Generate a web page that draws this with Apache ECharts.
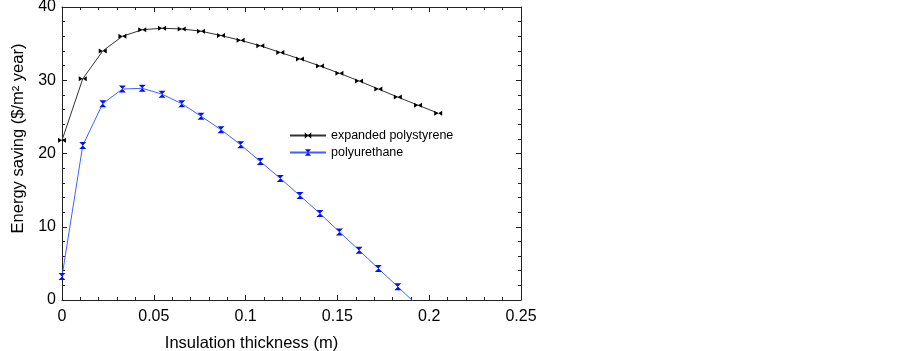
<!DOCTYPE html>
<html>
<head>
<meta charset="utf-8">
<script src="https://cdn.jsdelivr.net/npm/echarts@6/dist/echarts.min.js"></script>
<style>
html,body{margin:0;padding:0;background:#fff;}
#chart{width:903px;height:351px;}
</style>
</head>
<body>
<div id="chart"></div>
<script>
// thickness (m)
var thickness = [0, 0.0113, 0.0222, 0.0329, 0.0437, 0.0545, 0.0652, 0.0757, 0.0866, 0.0973,
                 0.108, 0.1189, 0.1296, 0.1405, 0.1511, 0.1618, 0.1723, 0.1829, 0.1939, 0.2049];
// energy saving ($/m2 year)
var epsSaving = [21.8, 30.2, 34.0, 36.0, 36.9, 37.1, 37.0, 36.7, 36.1, 35.45,
                 34.7, 33.8, 32.9, 31.95, 30.95, 29.9, 28.8, 27.7, 26.6, 25.5];
var puSaving = [3.2, 21.1, 26.8, 28.8, 28.9, 28.1, 26.8, 25.1, 23.25, 21.2,
                18.9, 16.6, 14.25, 11.8, 9.3, 6.8, 4.3, 1.8, -0.8];
var xTicks = [0, 0.05, 0.1, 0.15, 0.2, 0.25];
var yTicks = [0, 10, 20, 30, 40];

function pairs(xs, ys){
	var out = [];
	for(var i=0;i<ys.length;i++){
		out.push([xs[i], ys[i]]);
	}
	return out;
}

var bowtie = 'path://M0,0 L10,5 L0,10 Z M20,0 L10,5 L20,10 Z';
var hourglass = 'path://M0,0 L10,0 L5,8 Z M0,16 L10,16 L5,8 Z';

var fontFam = 'Liberation Sans, Arial, sans-serif';
var lineStyleAxis = {color:'#222', width:1};

function boxX(pos, show){
	return {
		type:'value', position:pos, min:0, max:0.25, interval:0.05,
		axisLine:{show:true, onZero:false, lineStyle:lineStyleAxis},
		axisTick:{show:true, inside:true, length:5, lineStyle:lineStyleAxis},
		minorTick:{show:true, splitNumber:5, length:3, lineStyle:lineStyleAxis},
		splitLine:{show:false},
		axisLabel:{show:show, margin:9, fontFamily:fontFam, fontSize:16, color:'#000',
			formatter:function(v){ return xTicks.indexOf(+v.toFixed(2))>=0 ? String(+v.toFixed(2)) : ''; }},
		name: show ? 'Insulation thickness (m)' : '',
		nameLocation:'middle', nameGap:35,
		nameTextStyle:{fontFamily:fontFam, fontSize:16.5, color:'#000', padding:[0,80,0,0]}
	};
}
function boxY(pos, show){
	return {
		type:'value', position:pos, min:0, max:40, interval:10,
		axisLine:{show:true, onZero:false, lineStyle:lineStyleAxis},
		axisTick:{show:true, inside:true, length:5, lineStyle:lineStyleAxis},
		minorTick:{show:true, splitNumber:5, length:3, lineStyle:lineStyleAxis},
		splitLine:{show:false},
		axisLabel:{show:show, margin:6, fontFamily:fontFam, fontSize:16, color:'#000'},
		name: show ? 'Energy saving ($/m² year)' : '',
		nameLocation:'middle', nameGap:34,
		nameTextStyle:{fontFamily:fontFam, fontSize:16.5, color:'#000', padding:[0,0,0,30]}
	};
}

var chart = echarts.init(document.getElementById('chart'));
var option = {
	animation:false,
	backgroundColor:'#fff',
	grid:{left:62, right:382, top:7, bottom:51, containLabel:false, outerBoundsMode:'none'},
	xAxis:[boxX('bottom', true), boxX('top', false)],
	yAxis:[boxY('left', true), boxY('right', false)],
	legend:{
		orient:'vertical', left:284, top:124,
		itemWidth:36, itemHeight:8, itemGap:4,
		textStyle:{fontFamily:fontFam, fontSize:12.5, color:'#000'},
		data:['expanded polystyrene','polyurethane']
	},
	series:[{
		name:'expanded polystyrene',
		type:'line',
		data:pairs(thickness, epsSaving),
		symbol:bowtie,
		symbolSize:[8,5],
		clip:true,
		lineStyle:{color:'#333', width:1},
		itemStyle:{color:'#000'}
	},{
		name:'polyurethane',
		type:'line',
		data:pairs(thickness, puSaving),
		symbol:hourglass,
		symbolSize:[7,7],
		clip:true,
		lineStyle:{color:'#4060ff', width:1},
		itemStyle:{color:'#0010f0'}
	}]
};
chart.setOption(option);
</script>
</body>
</html>
